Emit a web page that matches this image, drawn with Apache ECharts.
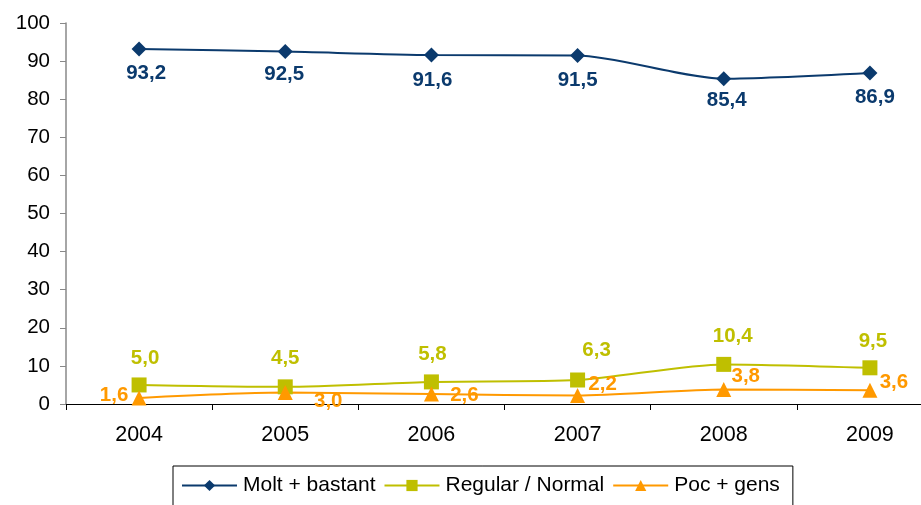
<!DOCTYPE html>
<html>
<head>
<meta charset="utf-8">
<script src="https://cdn.jsdelivr.net/npm/echarts@6/dist/echarts.min.js"></script>
<style>
  html, body { margin: 0; padding: 0; background: #fff; overflow: hidden; }
  #chart { width: 943px; height: 505px; }
</style>
</head>
<body>
<div id="chart"></div>
<script>
// Survey answers by year (percent)
const years = ['2004', '2005', '2006', '2007', '2008', '2009'];
const moltBastant = [93.2, 92.5, 91.6, 91.5, 85.4, 86.9];
const regularNormal = [5.0, 4.5, 5.8, 6.3, 10.4, 9.5];
const pocGens = [1.6, 3.0, 2.6, 2.2, 3.8, 3.6];
const seriesNames = ['Molt + bastant', 'Regular / Normal', 'Poc + gens'];

// Label nudges (px, from the marker centre) so the values do not collide
const moltOffsets = [[7, 24], [-1, 23], [1, 25], [0, 25], [3, 22], [5, 24]];
const regularOffsets = [[6, -27], [0, -29], [1, -28], [19, -30], [9, -28], [3, -26]];
const pocOffsets = [[-25, -3], [43, 9], [33, 1], [25, -11], [22, -13], [24, -8]];

const FONT = '"Liberation Sans", Arial, sans-serif';
const fmt = v => v.toFixed(1).replace('.', ',');

function buildData(values, offsets, color) {
  return values.map((v, i) => ({
    value: v,
    label: {
      show: true,
      position: 'inside',
      offset: offsets[i],
      formatter: p => fmt(p.value),
      color: color,
      fontFamily: FONT,
      fontWeight: 'bold',
      fontSize: 20.5
    }
  }));
}

const NAVY = '#0B3A6D';
const OLIVE = '#BFBF00';
const ORANGE = '#FF9900';

// The plot runs a little past the right edge of the page, as in the printed layout
const chart = echarts.init(document.getElementById('chart'), null, { renderer: 'canvas' });
chart.setOption({
  animation: false,
  backgroundColor: '#ffffff',
  grid: { left: 66, right: 0, top: 23, bottom: 101, containLabel: false },
  xAxis: {
    type: 'category',
    data: years,
    boundaryGap: true,
    axisLine: { show: true, lineStyle: { color: '#000', width: 1 } },
    axisTick: { show: true, length: 6, lineStyle: { color: '#000' } },
    axisLabel: { color: '#000', fontFamily: FONT, fontSize: 21.5, margin: 20 },
    splitLine: { show: false }
  },
  yAxis: {
    type: 'value',
    min: 0, max: 100, interval: 10,
    axisLine: { show: true, lineStyle: { color: '#888', width: 1.5 } },
    axisTick: { show: true, length: 6, lineStyle: { color: '#888' } },
    axisLabel: { color: '#000', fontFamily: FONT, fontSize: 20.5, margin: 16 },
    splitLine: { show: false }
  },
  legend: {
    left: 173, top: 466,
    width: 620,
    data: seriesNames,
    itemWidth: 55, itemHeight: 14, itemGap: 8,
    borderColor: '#000', borderWidth: 1,
    padding: [9, 13, 12, 8],
    textStyle: { color: '#000', fontFamily: FONT, fontSize: 21, padding: [0, 0, 0, 1] }
  },
  series: [
    {
      name: seriesNames[0], type: 'line', smooth: 0.25,
      data: buildData(moltBastant, moltOffsets, NAVY),
      symbol: 'diamond', symbolSize: 15,
      itemStyle: { color: NAVY }, lineStyle: { color: NAVY, width: 2 }
    },
    {
      name: seriesNames[1], type: 'line', smooth: 0.25,
      data: buildData(regularNormal, regularOffsets, OLIVE),
      symbol: 'rect', symbolSize: 15,
      itemStyle: { color: OLIVE }, lineStyle: { color: OLIVE, width: 2 }
    },
    {
      name: seriesNames[2], type: 'line', smooth: 0.25,
      data: buildData(pocGens, pocOffsets, ORANGE),
      symbol: 'triangle', symbolSize: 15,
      itemStyle: { color: ORANGE }, lineStyle: { color: ORANGE, width: 2 }
    }
  ]
});
</script>
</body>
</html>
